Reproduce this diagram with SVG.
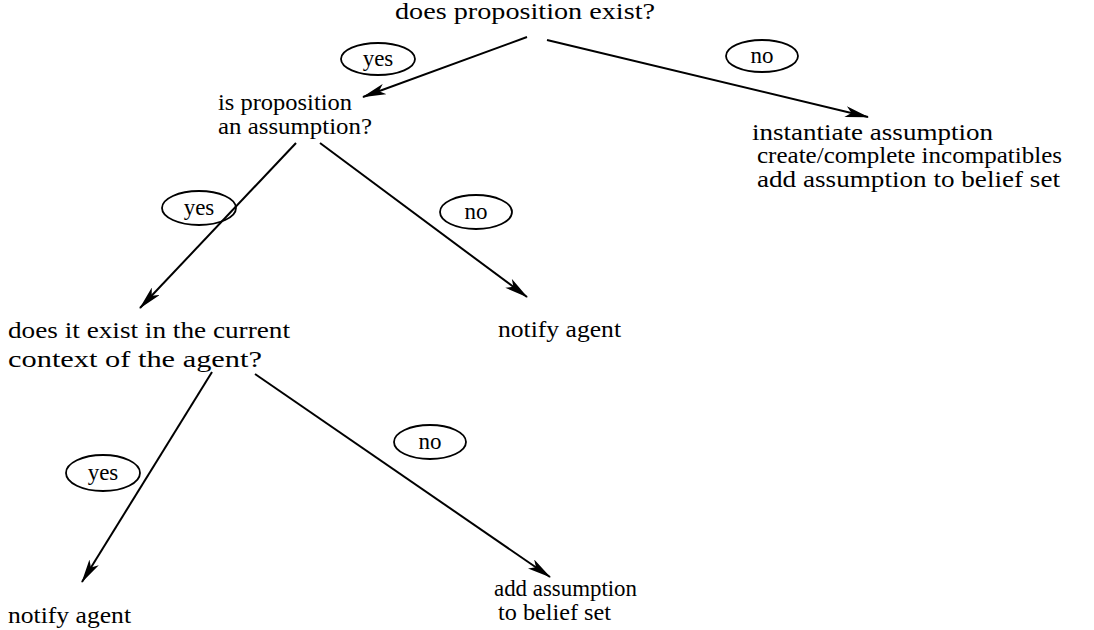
<svg xmlns="http://www.w3.org/2000/svg" width="1094" height="630" viewBox="0 0 1094 630">
  <style>
    text { font-family: "Liberation Serif", "Times New Roman", serif; font-size: 23px; fill: #000; }
    .lbl { text-anchor: middle; }
    ellipse { fill: none; stroke: #000; stroke-width: 1.8; }
    .edge { fill: none; stroke: #000; stroke-width: 2; marker-end: url(#head); }
  </style>
  <defs>
    <!-- slim barbed arrowhead -->
    <marker id="head" viewBox="0 0 24 11" refX="23" refY="5.5" markerWidth="24" markerHeight="11" markerUnits="userSpaceOnUse" orient="auto">
      <path d="M0,0 L24,5.5 L0,11 L6,5.5 Z" fill="#000"/>
    </marker>
  </defs>

  <rect width="1094" height="630" fill="#fff"/>

  <!-- connectors -->
  <g id="connectors">
    <line class="edge" x1="527" y1="37" x2="363" y2="97"/>
    <line class="edge" x1="547" y1="40" x2="868" y2="117"/>
    <line class="edge" x1="296" y1="143" x2="140" y2="308"/>
    <line class="edge" x1="320" y1="143" x2="527" y2="297"/>
    <line class="edge" x1="212" y1="372" x2="82" y2="582"/>
    <line class="edge" x1="255" y1="374" x2="550" y2="577"/>
  </g>

  <!-- branch labels -->
  <g id="labels">
    <g id="yes1"><ellipse cx="378" cy="59" rx="37" ry="16"/><text class="lbl" x="378" y="66">yes</text></g>
    <g id="no1"><ellipse cx="762" cy="56" rx="36" ry="16"/><text class="lbl" x="762" y="63">no</text></g>
    <g id="yes2"><ellipse cx="199" cy="208" rx="37" ry="17"/><text class="lbl" x="199" y="215">yes</text></g>
    <g id="no2"><ellipse cx="476" cy="212" rx="36" ry="17"/><text class="lbl" x="476" y="219">no</text></g>
    <g id="yes3"><ellipse cx="103" cy="473" rx="37" ry="18"/><text class="lbl" x="103" y="480">yes</text></g>
    <g id="no3"><ellipse cx="430" cy="442" rx="36" ry="17"/><text class="lbl" x="430" y="449">no</text></g>
  </g>

  <!-- nodes -->
  <g id="q-exists"><text x="395" y="19" textLength="260" lengthAdjust="spacingAndGlyphs">does proposition exist?</text></g>
  <g id="q-assumption">
    <text x="218" y="110" textLength="134" lengthAdjust="spacingAndGlyphs">is proposition</text>
    <text x="218" y="134" textLength="154" lengthAdjust="spacingAndGlyphs">an assumption?</text>
  </g>
  <g id="instantiate">
    <text x="752" y="140" textLength="241" lengthAdjust="spacingAndGlyphs">instantiate assumption</text>
    <text x="757" y="163" textLength="305" lengthAdjust="spacingAndGlyphs">create/complete incompatibles</text>
    <text x="757" y="187" textLength="303" lengthAdjust="spacingAndGlyphs">add assumption to belief set</text>
  </g>
  <g id="q-context">
    <text x="8" y="338" textLength="282" lengthAdjust="spacingAndGlyphs">does it exist in the current</text>
    <text x="8" y="367" textLength="254" lengthAdjust="spacingAndGlyphs">context of the agent?</text>
  </g>
  <g id="notify-1"><text x="498" y="337" textLength="123" lengthAdjust="spacingAndGlyphs">notify agent</text></g>
  <g id="notify-2"><text x="8" y="623" textLength="123" lengthAdjust="spacingAndGlyphs">notify agent</text></g>
  <g id="add-assumption">
    <text x="494" y="596" textLength="143" lengthAdjust="spacingAndGlyphs">add assumption</text>
    <text x="498" y="620" textLength="113" lengthAdjust="spacingAndGlyphs">to belief set</text>
  </g>
</svg>
